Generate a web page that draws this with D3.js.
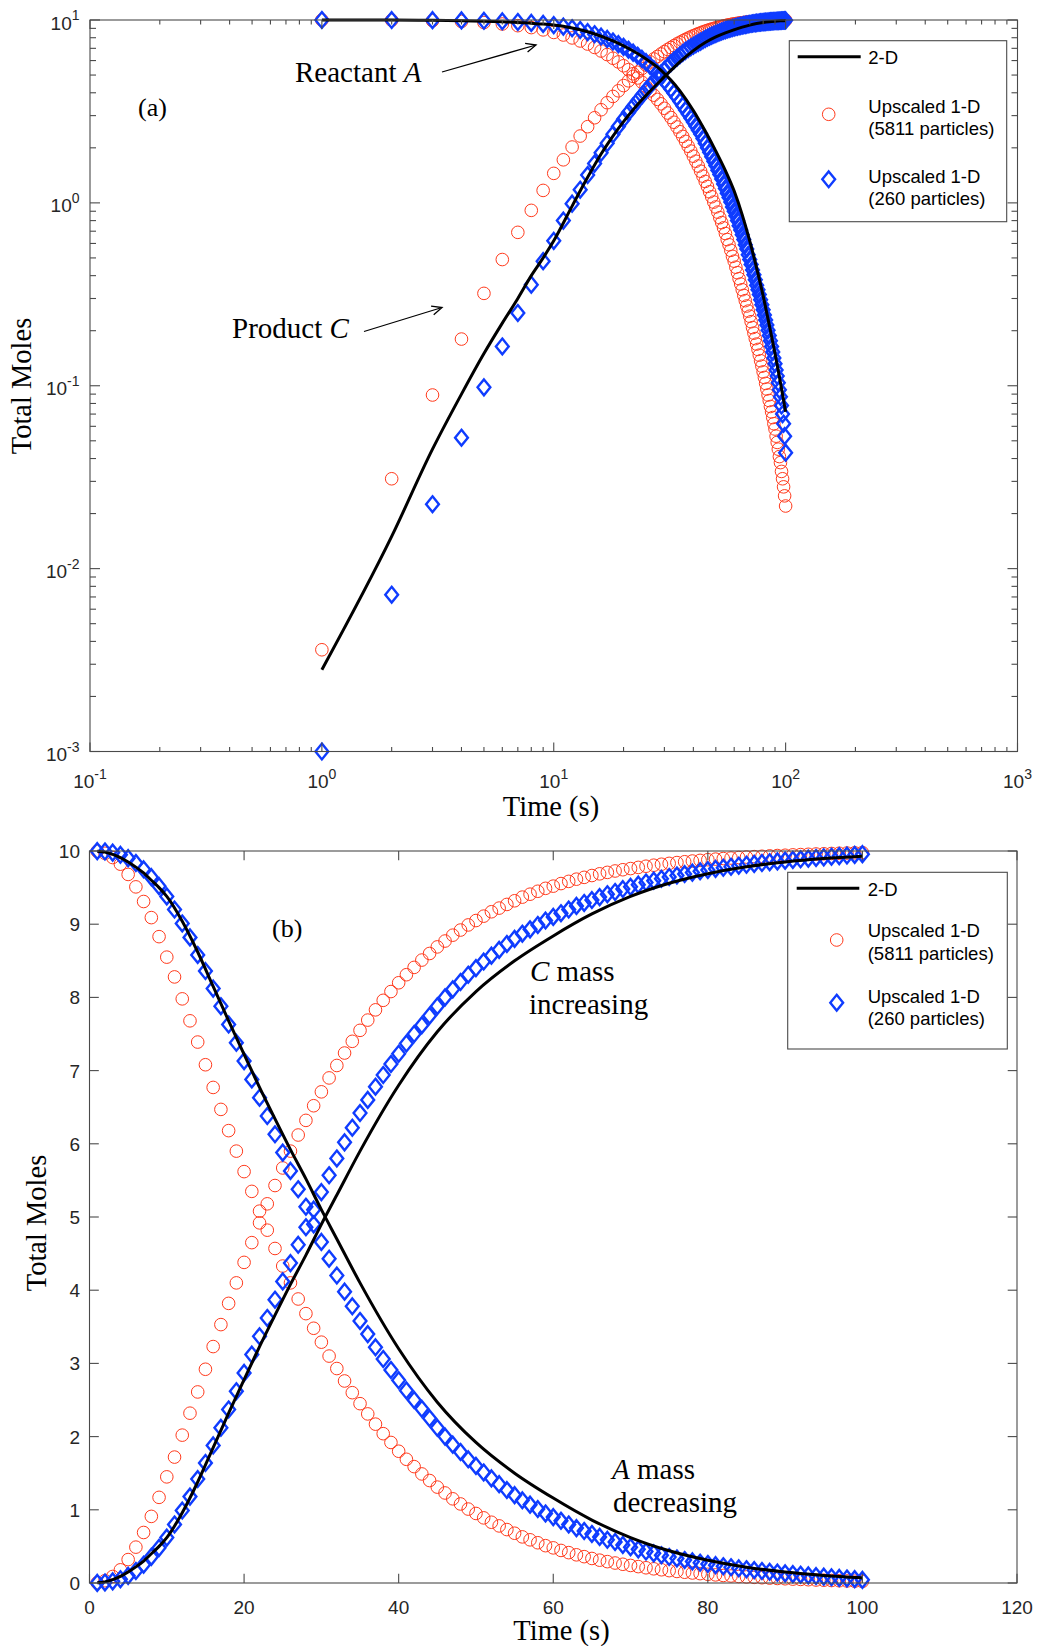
<!DOCTYPE html>
<html><head><meta charset="utf-8">
<script src="https://cdn.jsdelivr.net/npm/d3@7"></script>
<style>body{margin:0;background:#fff}svg{display:block}</style>
</head><body>
<script>
// ---------------- DATA ----------------
const timeSteps = [1,2,3,4,5,6,7,8,9,10,11,12,13,14,15,16,17,18,19,20,21,22,23,24,25,26,27,28,29,30,31,32,33,34,35,36,37,38,39,40,41,42,43,44,45,46,47,48,49,50,51,52,53,54,55,56,57,58,59,60,61,62,63,64,65,66,67,68,69,70,71,72,73,74,75,76,77,78,79,80,81,82,83,84,85,86,87,88,89,90,91,92,93,94,95,96,97,98,99,100];

// Upscaled 1-D, 5811 particles (red circles)
const redA = [9.996,9.969,9.911,9.82,9.68,9.51,9.31,9.09,8.83,8.55,8.28,7.98,7.68,7.39,7.08,6.77,6.47,6.18,5.90,5.62,5.35,5.08,4.82,4.57,4.33,4.10,3.88,3.68,3.48,3.29,3.10,2.93,2.76,2.60,2.45,2.31,2.17,2.04,1.92,1.80,1.69,1.59,1.49,1.40,1.31,1.23,1.15,1.08,1.01,0.95,0.89,0.83,0.78,0.73,0.68,0.63,0.59,0.55,0.51,0.48,0.445,0.415,0.385,0.36,0.335,0.312,0.292,0.273,0.256,0.24,0.224,0.208,0.194,0.181,0.169,0.158,0.147,0.137,0.128,0.119,0.111,0.103,0.096,0.089,0.083,0.077,0.072,0.067,0.062,0.058,0.053,0.049,0.045,0.041,0.038,0.034,0.031,0.028,0.025,0.022];
const redC = [0.0036,0.031,0.089,0.18,0.32,0.49,0.69,0.91,1.17,1.45,1.72,2.02,2.32,2.61,2.92,3.23,3.53,3.82,4.10,4.38,4.65,4.92,5.18,5.43,5.67,5.90,6.12,6.32,6.52,6.71,6.90,7.07,7.24,7.40,7.55,7.69,7.83,7.96,8.08,8.20,8.31,8.41,8.51,8.60,8.69,8.77,8.85,8.92,8.99,9.05,9.11,9.17,9.22,9.27,9.32,9.37,9.41,9.45,9.49,9.52,9.555,9.585,9.615,9.64,9.665,9.688,9.708,9.727,9.744,9.76,9.776,9.792,9.806,9.819,9.831,9.842,9.853,9.863,9.872,9.881,9.889,9.897,9.904,9.911,9.917,9.923,9.928,9.933,9.938,9.942,9.947,9.951,9.955,9.959,9.962,9.966,9.969,9.972,9.975,9.978];

// Upscaled 1-D, 260 particles (blue diamonds)
const blueA = [9.999,9.993,9.978,9.948,9.902,9.836,9.75,9.643,9.52,9.38,9.20,9.01,8.82,8.58,8.36,8.12,7.88,7.63,7.38,7.13,6.88,6.63,6.38,6.13,5.88,5.63,5.38,5.14,4.90,4.66,4.43,4.20,3.98,3.78,3.58,3.40,3.22,3.06,2.91,2.77,2.63,2.50,2.38,2.25,2.12,2.00,1.89,1.79,1.69,1.60,1.51,1.43,1.35,1.27,1.20,1.13,1.07,1.01,0.95,0.90,0.85,0.80,0.75,0.71,0.67,0.63,0.59,0.56,0.52,0.49,0.46,0.43,0.405,0.38,0.355,0.335,0.315,0.295,0.277,0.26,0.244,0.229,0.215,0.201,0.188,0.176,0.164,0.153,0.142,0.132,0.122,0.113,0.104,0.095,0.087,0.078,0.07,0.062,0.053,0.043];
const blueC = [0.001,0.0072,0.0225,0.052,0.098,0.164,0.25,0.357,0.48,0.62,0.80,0.99,1.18,1.42,1.64,1.88,2.12,2.37,2.62,2.87,3.12,3.37,3.62,3.87,4.12,4.37,4.62,4.86,5.10,5.34,5.57,5.80,6.02,6.22,6.42,6.60,6.78,6.94,7.09,7.23,7.37,7.50,7.62,7.75,7.88,8.00,8.11,8.21,8.31,8.40,8.49,8.57,8.65,8.73,8.80,8.87,8.93,8.99,9.05,9.10,9.15,9.20,9.25,9.29,9.33,9.37,9.41,9.44,9.48,9.51,9.54,9.57,9.595,9.62,9.645,9.665,9.685,9.705,9.723,9.74,9.756,9.771,9.785,9.799,9.812,9.824,9.836,9.847,9.858,9.868,9.878,9.887,9.896,9.905,9.913,9.922,9.93,9.938,9.947,9.957];

// 2-D (black line)
const lineT = [1,2,3,4,5,6,7,8,9,10,12,14,16,18,20,22,24,26,28,30,32,35,40,45,50,55,60,65,70,75,80,85,90,95,100];
const lineA = [9.9972,9.985,9.955,9.91,9.85,9.78,9.70,9.60,9.50,9.38,9.04,8.62,8.15,7.68,7.22,6.77,6.34,5.92,5.52,5.10,4.70,4.10,3.20,2.47,1.92,1.50,1.16,0.86,0.62,0.44,0.31,0.215,0.15,0.104,0.072];
const lineC = [0.0028,0.015,0.045,0.09,0.15,0.22,0.30,0.40,0.50,0.62,0.96,1.38,1.85,2.32,2.78,3.23,3.66,4.08,4.48,4.90,5.30,5.90,6.80,7.53,8.08,8.50,8.84,9.14,9.38,9.56,9.69,9.785,9.85,9.896,9.928];

// Tick values
const logTicksX = [0.1,1,10,100,1000];
const logExpX = ["-1","0","1","2","3"];
const logTicksY = [0.001,0.01,0.1,1,10];
const logExpY = ["-3","-2","-1","0","1"];
const linTicksX = [0,20,40,60,80,100,120];
const linTicksY = [0,1,2,3,4,5,6,7,8,9,10];

const legendLabels = [["2-D"],["Upscaled 1-D","(5811 particles)"],["Upscaled 1-D","(260 particles)"]];

// ---------------- DRAWING ----------------
const W=1037,H=1646;
const axisColor="#262626", frameColor="#4a4a4a";
const redColor="#ff3a1c", blueColor="#0f3cff";
const sans="'Liberation Sans', Arial, Helvetica, sans-serif";
const serif="'Liberation Serif', 'Times New Roman', Times, serif";

const svg=d3.select("body").append("svg").attr("width",W).attr("height",H);

const xa=d3.scaleLog().domain([0.1,1000]).range([90,1017.5]);
const ya=d3.scaleLog().domain([0.001,10]).range([751.5,20]);
const xb=d3.scaleLinear().domain([0,120]).range([89.5,1017]);
const yb=d3.scaleLinear().domain([0,10]).range([1583,851]);

function frame(g,xs,ys){
  const [x0,x1]=xs.range(), [y0,y1]=ys.range();
  g.append("rect").attr("x",x0).attr("y",y1).attr("width",x1-x0).attr("height",y0-y1)
   .attr("fill","none").attr("stroke",frameColor).attr("stroke-width",1.1);
}
function tickMarks(g,xs,ys,xt,yt,isMajX,isMajY,lx,lxm,ly,lym){
  const [x0,x1]=xs.range(), [y0,y1]=ys.range();
  xt.forEach(v=>{const x=xs(v), L=isMajX(v)?lx:lxm;
    g.append("line").attr("x1",x).attr("x2",x).attr("y1",y0).attr("y2",y0-L).attr("stroke",frameColor).attr("stroke-width",1.1);
    g.append("line").attr("x1",x).attr("x2",x).attr("y1",y1).attr("y2",y1+L).attr("stroke",frameColor).attr("stroke-width",1.1);
  });
  yt.forEach(v=>{const y=ys(v), L=isMajY(v)?ly:lym;
    g.append("line").attr("x1",x0).attr("x2",x0+L).attr("y1",y).attr("y2",y).attr("stroke",frameColor).attr("stroke-width",1.1);
    g.append("line").attr("x1",x1).attr("x2",x1-L).attr("y1",y).attr("y2",y).attr("stroke",frameColor).attr("stroke-width",1.1);
  });
}
function powLabel(g,x,y,exp,anchor){
  const t=g.append("text").attr("x",x).attr("y",y).attr("text-anchor",anchor)
    .attr("font-family",sans).attr("font-size",19).attr("fill",axisColor);
  t.append("tspan").text("10");
  t.append("tspan").attr("dy",-9.5).attr("font-size",14).text(exp);
}
const diamond=(w,h)=>`M0,${-h}L${w},0L0,${h}L${-w},0Z`;
const DW=6.4, DH=7.9;

function drawSeries(g,xs,ys){
  const circ=(arr)=>g.append("g").selectAll("circle").data(timeSteps).join("circle")
    .attr("cx",(d)=>xs(d)).attr("cy",(d,i)=>ys(arr[i])).attr("r",6.3)
    .attr("fill","none").attr("stroke",redColor).attr("stroke-width",1);
  circ(redA); circ(redC);
  const dia=(arr)=>g.append("g").selectAll("path").data(timeSteps).join("path")
    .attr("d",diamond(DW,DH)).attr("transform",(d,i)=>`translate(${xs(d)},${ys(arr[i])})`)
    .attr("fill","none").attr("stroke",blueColor).attr("stroke-width",2.4).attr("stroke-linejoin","miter");
  dia(blueA); dia(blueC);
  const ln=(arr)=>d3.line().x((d)=>xs(d)).y((d,i)=>ys(arr[i])).curve(d3.curveMonotoneX)(lineT);
  g.append("path").attr("d",ln(lineA)).attr("fill","none").attr("stroke","#000").attr("stroke-width",3);
  g.append("path").attr("d",ln(lineC)).attr("fill","none").attr("stroke","#000").attr("stroke-width",3);
}

function legend(g,x,y,w,h,lineX0,lineX1,lineY,textX,base2D,markX,circY,circBase,diaY,diaBase){
  g.append("rect").attr("x",x).attr("y",y).attr("width",w).attr("height",h)
    .attr("fill","#fff").attr("stroke",frameColor).attr("stroke-width",1.1);
  g.append("line").attr("x1",lineX0).attr("x2",lineX1).attr("y1",lineY).attr("y2",lineY).attr("stroke","#000").attr("stroke-width",3);
  g.append("circle").attr("cx",markX).attr("cy",circY).attr("r",6.3).attr("fill","none").attr("stroke",redColor).attr("stroke-width",1);
  g.append("path").attr("d",diamond(DW,DH)).attr("transform",`translate(${markX},${diaY})`).attr("fill","none").attr("stroke",blueColor).attr("stroke-width",2.4);
  const txt=(lines,b)=>lines.forEach((s,k)=>g.append("text").attr("x",textX).attr("y",b+k*22.5)
     .attr("font-family",sans).attr("font-size",18.5).attr("fill","#000").text(s));
  txt(legendLabels[0],base2D); txt(legendLabels[1],circBase); txt(legendLabels[2],diaBase);
}

function arrow(g,x1,y1,x2,y2){
  g.append("line").attr("x1",x1).attr("y1",y1).attr("x2",x2).attr("y2",y2).attr("stroke","#000").attr("stroke-width",1.3);
  const a=Math.atan2(y2-y1,x2-x1), L=11, s=0.42;
  const p=(ang)=>[x2-L*Math.cos(a+ang), y2-L*Math.sin(a+ang)];
  const [ax,ay]=p(s),[bx,by]=p(-s);
  g.append("path").attr("d",`M${ax},${ay}L${x2},${y2}L${bx},${by}`).attr("fill","none").attr("stroke","#000").attr("stroke-width",1.3);
}
function serifText(g,x,y,parts,size,anchor){
  const t=g.append("text").attr("x",x).attr("y",y).attr("font-family",serif).attr("font-size",size).attr("fill","#000").attr("text-anchor",anchor||"start");
  parts.forEach(p=>{const s=t.append("tspan").text(p[0]); if(p[1]) s.attr("font-style","italic");});
  return t;
}

// ---------- Panel (a) ----------
const ga=svg.append("g");
const xaAll=xa.ticks(), yaAll=ya.ticks();
const isDec=(v)=>Math.abs(Math.log10(v)-Math.round(Math.log10(v)))<1e-9;
drawSeries(ga,xa,ya);
frame(ga,xa,ya);
tickMarks(ga,xa,ya,xaAll,yaAll,isDec,isDec,9,4.5,10,6);
logTicksX.forEach((v,i)=>powLabel(ga,xa(v),788,logExpX[i],"middle"));
logTicksY.forEach((v,i)=>powLabel(ga,79.5,ya(v)+9.5,logExpY[i],"end"));
legend(ga,789.3,40.7,217.4,181,797.7,860.7,56.7,868.3,64,828.7,114.3,112.5,179.3,182.7);
serifText(ga,551,816,[["Time (s)"]],28.5,"middle");
serifText(ga,0,0,[["Total Moles"]],28.5,"middle").attr("transform","translate(31,386) rotate(-90)");
serifText(ga,138,116,[["(a)"]],26);
serifText(ga,295,81.5,[["Reactant "],["A",true]],29);
serifText(ga,232,338,[["Product "],["C",true]],29);
arrow(ga,442,72,536,45);
arrow(ga,364,331.5,442,307.5);

// ---------- Panel (b) ----------
const gb=svg.append("g");
drawSeries(gb,xb,yb);
frame(gb,xb,yb);
tickMarks(gb,xb,yb,linTicksX,linTicksY,()=>true,()=>true,9.3,9.3,9.3,9.3);
linTicksX.forEach(v=>gb.append("text").attr("x",xb(v)).attr("y",1614).attr("text-anchor","middle")
  .attr("font-family",sans).attr("font-size",19).attr("fill",axisColor).text(v));
linTicksY.forEach(v=>gb.append("text").attr("x",80).attr("y",yb(v)+7).attr("text-anchor","end")
  .attr("font-family",sans).attr("font-size",19).attr("fill",axisColor).text(v));
legend(gb,787.7,872.3,219.6,176.7,796.7,859.3,888.3,867.7,896,836.7,940,937.3,1002.7,1002.7);
serifText(gb,561.5,1640,[["Time (s)"]],28.5,"middle");
serifText(gb,0,0,[["Total Moles"]],28.5,"middle").attr("transform","translate(46,1223) rotate(-90)");
serifText(gb,272,937,[["(b)"]],26);
serifText(gb,530,981,[["C",true],[" mass"]],29);
serifText(gb,529,1013.5,[["increasing"]],29);
serifText(gb,612,1478.5,[["A",true],[" mass"]],29);
serifText(gb,613,1512,[["decreasing"]],29);
</script>
</body></html>
